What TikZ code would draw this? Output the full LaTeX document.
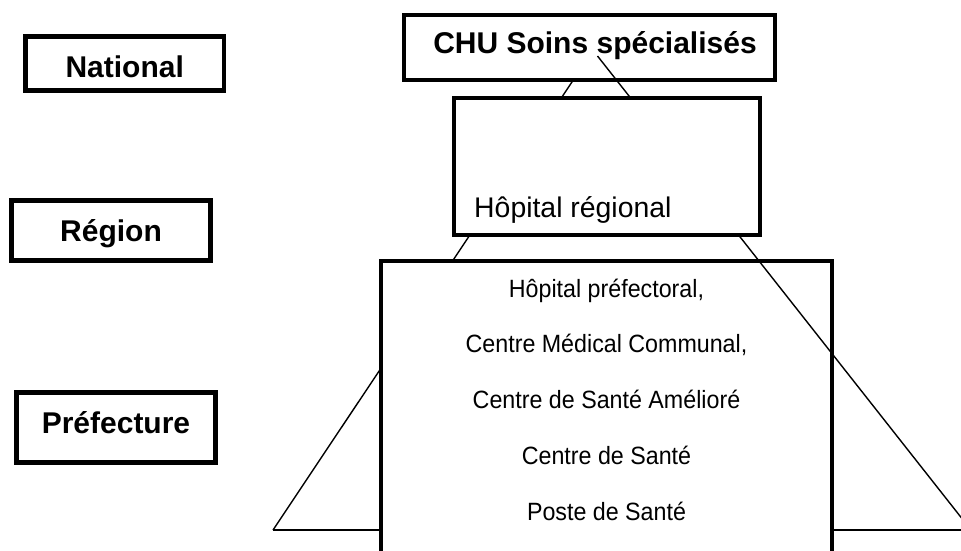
\documentclass[tikz,border=0pt]{standalone}
\usepackage{fontspec}
\setmainfont{Liberation Sans}
\newfontfamily\narrowsans[FakeStretch=0.93]{Liberation Sans}
\begin{document}
\begin{tikzpicture}[x=1pt,y=-1pt,
  levelbox/.style={draw, rectangle, line width=4.5pt, fill=white, inner sep=0pt, outer sep=0pt},
  unitbox/.style={draw, rectangle, line width=4pt, fill=white, inner sep=0pt, outer sep=0pt},
  levellabel/.style={font=\fontsize{30}{35}\selectfont\bfseries, inner sep=0pt, anchor=base},
  unitlabel/.style={font=\fontsize{28.4}{33}\selectfont, inner sep=0pt, anchor=base west},
  entry/.style={font=\narrowsans\fontsize{25}{29}\selectfont, inner sep=0pt, anchor=base},
  pyramid/.style={line width=1.4pt, line join=miter},
  baseline/.style={line width=1.1pt}]
\useasboundingbox (0,0) rectangle (961,550);
\clip (0,0) rectangle (961,550);

% corners of the pyramid
\coordinate (apex)  at (593.3,50);
\coordinate (apexR) at (597.5,56);
\coordinate (footL) at (273,530);
\coordinate (footR) at (971,530);

% left side and base of the pyramid, behind the boxes
\draw[baseline] (footL) -- (footR);
\draw[pyramid] (footL) -- (apex);

% level boxes on the left
\node[levelbox, minimum width=198.5pt, minimum height=54pt] (national) at (124.75,63.5) {};
\node[levellabel] (nationalT) at (124.75,77) {National};
\node[levelbox, minimum width=199pt, minimum height=60pt] (region) at (111,230.5) {};
\node[levellabel] (regionT) at (111,241) {Région};
\node[levelbox, minimum width=199pt, minimum height=70pt] (prefecture) at (116,427.5) {};
\node[levellabel] (prefectureT) at (116,433) {Préfecture};

% national level
\node[unitbox, minimum width=371pt, minimum height=65pt] (chu) at (589.5,47.5) {};
\node[levellabel] (chuT) at (595,53) {CHU Soins spécialisés};

% prefecture level (box runs off the bottom)
\node[unitbox, minimum width=451pt, minimum height=359.5pt] (pref) at (606.5,440.25) {};
\node[entry] (e1) at (606.5,297) {Hôpital préfectoral,};
\node[entry] (e2) at (606.5,352) {Centre Médical Communal,};
\node[entry] (e3) at (606.5,408) {Centre de Santé Amélioré};
\node[entry] (e4) at (606.5,464) {Centre de Santé};
\node[entry] (e5) at (606.5,520) {Poste de Santé};

% right side of the pyramid
\draw[pyramid] (apexR) -- (footR);

% regional level
\node[unitbox, minimum width=306pt, minimum height=137pt] (hr) at (607,166.5) {};
\node[unitlabel] (hrT) at (474,217) {Hôpital régional};
\end{tikzpicture}
\end{document}
